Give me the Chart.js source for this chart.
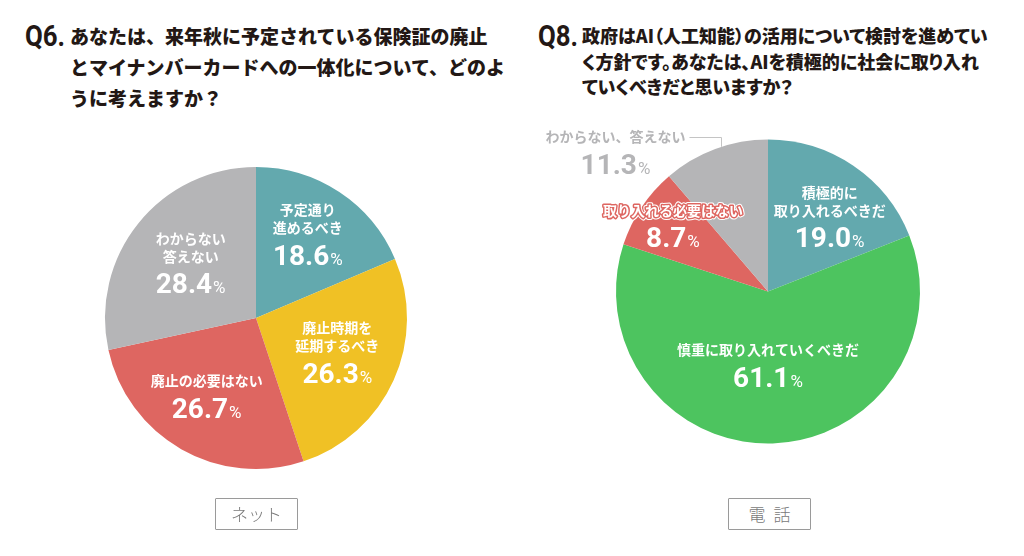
<!DOCTYPE html>
<html lang="ja">
<head>
<meta charset="utf-8">
<script src="https://cdn.jsdelivr.net/npm/chart.js@4.4.0/dist/chart.umd.min.js"></script>
<style>
  body { margin: 0; width: 1024px; height: 556px; background: #fff; position: relative; overflow: hidden;
         font-family: "Noto Sans CJK JP", sans-serif; color: #231815; }
  .q { position: absolute; font-family: Roboto, sans-serif; font-weight: 700; font-size: 30px; line-height: 1;
       transform: scaleX(0.86); transform-origin: left top; }
  .t { position: absolute; font-weight: 900; white-space: nowrap; line-height: 1; }
  .p { font-feature-settings: "palt"; }
  .box { position: absolute; border: 1px solid #9a9a9a; border-radius: 1px; color: #7a7a7a; font-size: 17px;
         font-weight: 300; text-align: center; line-height: 30px; height: 30px; box-sizing: content-box; }
  .chart { position: absolute; }
</style>
</head>
<body>

<div class="q" style="left:25px;top:21px;">Q6.</div>
<div class="t" style="left:70px;top:26px;font-size:19px;">あなたは、来年秋に予定されている保険証の廃止</div>
<div class="t" style="left:70px;top:57px;font-size:19px;">とマイナンバーカードへの一体化について、どのよ</div>
<div class="t" style="left:70px;top:88px;font-size:19px;">うに考えますか？</div>

<div class="q" style="left:538px;top:21px;">Q8.</div>
<div class="t p" style="left:582px;top:26px;font-size:18px;">政府はAI（人工知能）の活用について検討を進めてい</div>
<div class="t p" style="left:582px;top:52px;font-size:18px;">く方針です。あなたは、AIを積極的に社会に取り入れ</div>
<div class="t p" style="left:582px;top:77px;font-size:18px;">ていくべきだと思いますか？</div>

<div class="chart" style="left:0;top:100px;width:512px;height:436px;"><canvas id="netChart"></canvas></div>
<div class="chart" style="left:512px;top:100px;width:512px;height:383px;"><canvas id="telChart"></canvas></div>

<div class="box" style="left:215px;top:498px;width:81px;">ネット</div>
<div class="box" style="left:728px;top:498px;width:81px;letter-spacing:8px;text-indent:8px;">電話</div>

<script>
// Q6 (ネット)
const netLabels = [['予定通り', '進めるべき'], ['廃止時期を', '延期するべき'], ['廃止の必要はない'], ['わからない', '答えない']];
const netValues = [18.6, 26.3, 26.7, 28.4];
const netColors = ['#63a9ae', '#f0c125', '#de6661', '#b5b5b7'];

// Q8 (電話)
const telLabels = [['積極的に', '取り入れるべきだ'], ['慎重に取り入れていくべきだ'], ['取り入れる必要はない'], ['わからない、答えない']];
const telValues = [19.0, 61.1, 8.7, 11.3];
const telColors = ['#63a9ae', '#4dc45f', '#de6661', '#b5b5b7'];

// label placement (angle from top, clockwise, and distance as share of radius)
const netPlace = [
  { angle: 39.5, dist: 0.54 },
  { angle: 124, dist: 0.65 },
  { angle: 208.7, dist: 0.68 },
  { angle: 298, dist: 0.49 }
];
const telPlace = [
  { angle: 48.7, dist: 0.54 },
  { angle: 180, dist: 0.56 },
  { angle: 299.7, dist: 0.72, outline: '#de6661' },
  { angle: 310, dist: 1.31, color: '#b5b5b7', callout: true }
];

const labelPlugin = {
  id: 'sliceLabels',
  afterDatasetsDraw(chart, args, opts) {
    const ctx = chart.ctx;
    const arc0 = chart.getDatasetMeta(0).data[0];
    const cx = arc0.x, cy = arc0.y, r = arc0.outerRadius;
    const values = chart.data.datasets[0].data;
    ctx.save();
    opts.place.forEach((p, i) => {
      const a = (p.angle - 90) * Math.PI / 180;
      const x = cx + Math.cos(a) * r * p.dist;
      const y = cy + Math.sin(a) * r * p.dist;
      const color = p.color || '#fff';
      const lines = chart.data.labels[i];

      ctx.font = 'bold 14px "Noto Sans CJK JP"';
      ctx.textAlign = 'center';
      ctx.textBaseline = 'middle';
      ctx.lineJoin = 'round';
      lines.forEach((line, k) => {
        const ly = y - 27 - 18 * (lines.length - 1 - k);
        if (p.outline) {
          ctx.strokeStyle = '#fff'; ctx.lineWidth = 5; ctx.strokeText(line, x, ly);
          ctx.strokeStyle = p.outline; ctx.lineWidth = 3; ctx.strokeText(line, x, ly);
        }
        ctx.fillStyle = color;
        ctx.fillText(line, x, ly);
        if (p.callout) {
          const w = ctx.measureText(line).width;
          const x0 = x + w / 2 + 4;
          const lx = x + w / 2 + 36;
          const edge = cy - Math.sqrt(r * r - (lx - cx) * (lx - cx));
          ctx.strokeStyle = '#c4c4c4';
          ctx.lineWidth = 1;
          ctx.beginPath();
          ctx.moveTo(x0, Math.round(ly) + 0.5);
          ctx.lineTo(Math.round(lx) + 0.5, Math.round(ly) + 0.5);
          ctx.lineTo(Math.round(lx) + 0.5, edge);
          ctx.stroke();
        }
      });

      const num = values[i].toFixed(1);
      ctx.textAlign = 'left';
      ctx.textBaseline = 'alphabetic';
      ctx.font = 'bold 28px Roboto';
      const wN = ctx.measureText(num).width;
      ctx.font = '17px Roboto';
      const wP = ctx.measureText('%').width;
      const sx = x - (wN + wP + 1) / 2;
      ctx.fillStyle = color;
      ctx.font = 'bold 28px Roboto';
      ctx.fillText(num, sx, y + 10);
      ctx.font = '17px Roboto';
      ctx.fillText('%', sx + wN + 1, y + 10);
    });
    ctx.restore();
  }
};

function createPie(canvasId, labels, values, colors, radius, place) {
  const ctx = document.getElementById(canvasId).getContext('2d');
  return new Chart(ctx, {
    type: 'pie',
    data: {
      labels: labels,
      datasets: [{
        data: values,
        backgroundColor: colors,
        borderWidth: 0,
        radius: radius
      }]
    },
    options: {
      responsive: true,
      maintainAspectRatio: false,
      animation: false,
      events: [],
      layout: { padding: 0 },
      plugins: {
        legend: { display: false },
        tooltip: { enabled: false },
        sliceLabels: { place: place }
      }
    },
    plugins: [labelPlugin]
  });
}

document.fonts.load('bold 14px "Noto Sans CJK JP"').then(() => document.fonts.load('bold 28px Roboto')).finally(() => {
  createPie('netChart', netLabels, netValues, netColors, 151, netPlace);
  createPie('telChart', telLabels, telValues, telColors, 152, telPlace);
});
</script>
</body>
</html>
